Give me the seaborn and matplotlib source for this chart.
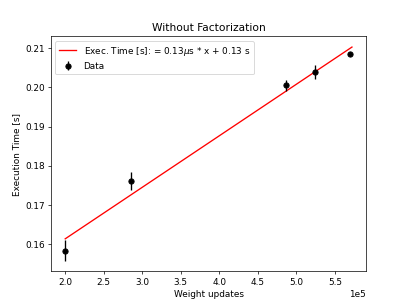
import matplotlib
matplotlib.use("Agg")
import matplotlib.pyplot as plt
import seaborn as sns
import pandas as pd
import numpy as np

weight_updates = [2.00e5, 2.85e5, 4.86e5, 5.245e5, 5.70e5]
exec_time = [0.1583, 0.1761, 0.2005, 0.2040, 0.2085]
exec_err = [0.0026, 0.0023, 0.0015, 0.0018, 0.0005]

fit_x = [2.00e5, 5.72e5]
fit_y = [0.1613, 0.2103]
fit_label = "Exec. Time [s]: = 0.13$\\mu$s * x + 0.13 s"

fig, ax = plt.subplots(figsize=(6.4, 4.8), dpi=407 / 6.4)

fit_df = pd.DataFrame({"x": fit_x, "y": fit_y})
sns.lineplot(data=fit_df, x="x", y="y", color="red", ax=ax, label=fit_label)
ax.errorbar(weight_updates, exec_time, yerr=exec_err, fmt="o", color="black", label="Data")

ax.set_title("Without Factorization")
ax.set_xlabel("Weight updates")
ax.set_ylabel("Execution Time [s]")
ax.ticklabel_format(axis="x", style="sci", scilimits=(0, 0))
ax.legend(loc="upper left")

fig.savefig("out.png", dpi=407 / 6.4)
